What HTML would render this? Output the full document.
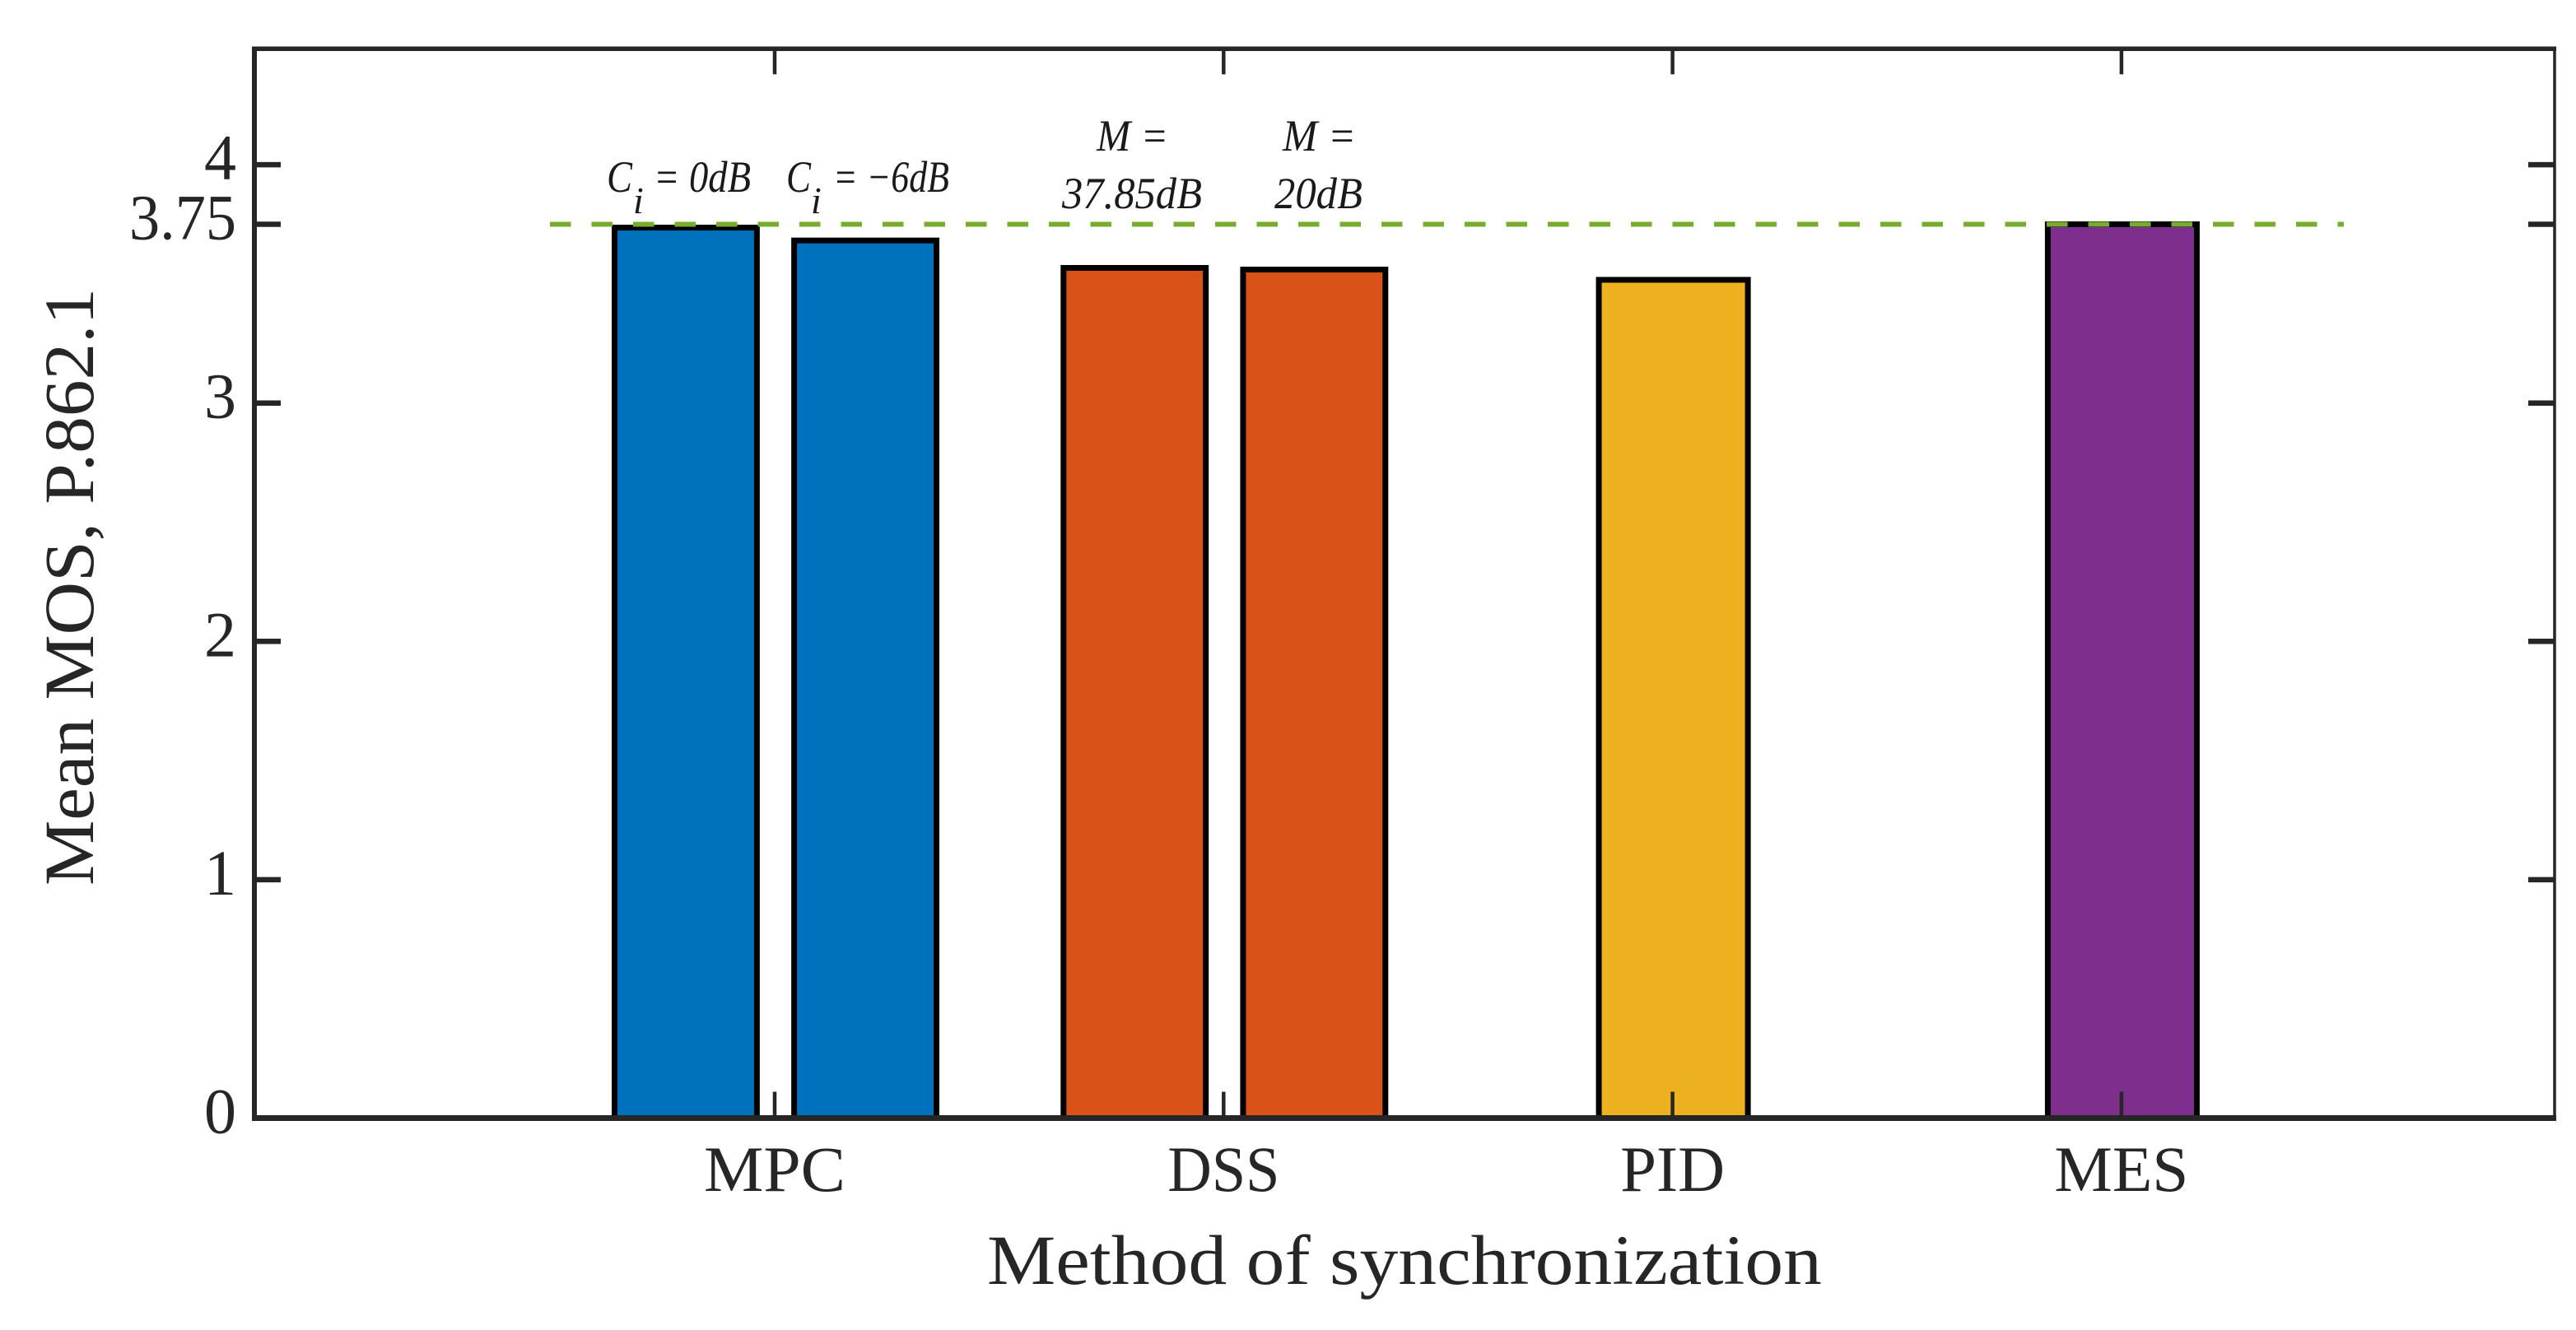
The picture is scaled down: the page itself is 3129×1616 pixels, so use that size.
<!DOCTYPE html>
<html lang="en">
<head>
<meta charset="utf-8">
<title>Mean MOS by method of synchronization</title>
<style>
  html, body { margin: 0; padding: 0; background: #ffffff; }
  #chart { display: block; width: 3129px; height: 1616px; }
  text { font-family: "Liberation Serif", serif; fill: #262626; }
  .annot { font-style: italic; font-size: 54px; fill: #1a1a1a; }
</style>
</head>
<body>
<svg id="chart" xmlns="http://www.w3.org/2000/svg" width="3129" height="1616" viewBox="0 0 3129 1616">
  <rect x="0" y="0" width="3129" height="1616" fill="#ffffff"/>
  <g id="bars"></g>
  <g id="refline"></g>
  <g id="axes"></g>

  <text x="1706" y="1560" font-size="86" text-anchor="middle" textLength="1014" lengthAdjust="spacingAndGlyphs">Method of synchronization</text>
  <text transform="translate(113 713) rotate(-90)" font-size="86" text-anchor="middle" textLength="726" lengthAdjust="spacingAndGlyphs">Mean MOS, P.862.1</text>

  <g>
    <text class="annot" x="737" y="233" textLength="31" lengthAdjust="spacingAndGlyphs">C</text>
    <text class="annot" x="769" y="259" style="font-size:46px">i</text>
    <text class="annot" x="794" y="233" textLength="118" lengthAdjust="spacingAndGlyphs">= 0dB</text>
    <text class="annot" x="955" y="233" textLength="30" lengthAdjust="spacingAndGlyphs">C</text>
    <text class="annot" x="985" y="259" style="font-size:46px">i</text>
    <text class="annot" x="1012" y="233" textLength="141" lengthAdjust="spacingAndGlyphs">= −6dB</text>
    <text class="annot" x="1332" y="183" textLength="87" lengthAdjust="spacingAndGlyphs">M =</text>
    <text class="annot" x="1290" y="253" textLength="170" lengthAdjust="spacingAndGlyphs">37.85dB</text>
    <text class="annot" x="1558" y="183" textLength="89" lengthAdjust="spacingAndGlyphs">M =</text>
    <text class="annot" x="1548" y="253" textLength="107" lengthAdjust="spacingAndGlyphs">20dB</text>
  </g>
</svg>

<script>
// Chart data
const categories = ['MPC', 'DSS', 'PID', 'MES'];
const mpcValues = [3.736, 3.682];
const dssValues = [3.567, 3.56];
const pidValues = [3.517];
const mesValues = [3.75];
const yTickValues = [0, 1, 2, 3, 3.75, 4];
const yTickLabels = ['0', '1', '2', '3', '3.75', '4'];
const referenceValue = [3.75];
const barColors = ['#0072BD', '#D95319', '#EDB120', '#7E2F8E'];

const seriesByCategory = [mpcValues, dssValues, pidValues, mesValues];

const NS = 'http://www.w3.org/2000/svg';
const axisLeft = 309, axisRight = 3103, axisTop = 59.3, axisBottom = 1358.5;
const xUnit = 545.3;

function xScale(c) { return 942 + (c - 1) * xUnit; }
function yScale(v) { return 1358.5 - v * 289.6; }

function make(tag, attrs, parent) {
  const el = document.createElementNS(NS, tag);
  for (const k in attrs) el.setAttribute(k, attrs[k]);
  parent.appendChild(el);
  return el;
}

// Bars
const barsGroup = document.getElementById('bars');
seriesByCategory.forEach(function (vals, ci) {
  const n = vals.length;
  const w = n > 1 ? 0.317 : 0.332;
  vals.forEach(function (v, i) {
    const center = xScale(ci + 1) + (i - (n - 1) / 2) * 0.4 * xUnit;
    const rect = make('rect', {
      x: center - w * xUnit / 2,
      y: yScale(v),
      width: w * xUnit,
      height: yScale(0) - yScale(v),
      fill: barColors[ci],
      stroke: '#000000',
      'stroke-width': 7
    }, barsGroup);
    
    
  });
});

// Reference line
const refGroup = document.getElementById('refline');
const refLine = make('line', {
  x1: 668, x2: 2847,
  y1: yScale(referenceValue[0]), y2: yScale(referenceValue[0]),
  stroke: '#77AC30', 'stroke-width': 6, 'stroke-dasharray': '25.5 25'
}, refGroup);



// Axes
const axes = document.getElementById('axes');
const axisColor = '#262626';
const labelFit = { 'MPC': 172, 'DSS': 136, 'PID': 127, 'MES': 163, '3.75': 130 };

const topLine = make('line', { x1: axisLeft - 3, x2: axisRight + 2, y1: axisTop, y2: axisTop, stroke: axisColor, 'stroke-width': 5.5 }, axes);



const bottomLine = make('line', { x1: axisLeft - 3, x2: axisRight + 2, y1: axisBottom, y2: axisBottom, stroke: axisColor, 'stroke-width': 7 }, axes);



const leftLine = make('line', { x1: axisLeft, x2: axisLeft, y1: axisTop, y2: axisBottom, stroke: axisColor, 'stroke-width': 6 }, axes);



const rightLine = make('line', { x1: axisRight, x2: axisRight, y1: axisTop, y2: axisBottom, stroke: axisColor, 'stroke-width': 3.5 }, axes);



yTickValues.forEach(function (v, i) {
  const y = yScale(v);
  const leftTick = make('line', { x1: axisLeft, x2: axisLeft + 32, y1: y, y2: y, stroke: axisColor, 'stroke-width': 6.5 }, axes);
  
  

  const rightTick = make('line', { x1: axisRight - 32, x2: axisRight, y1: y, y2: y, stroke: axisColor, 'stroke-width': 6.5 }, axes);
  
  

  const label = make('text', { x: 287, y: y + 18, 'font-size': 78, 'text-anchor': 'end' }, axes);
  label.textContent = yTickLabels[i];
  if (labelFit[yTickLabels[i]]) {
    label.setAttribute('textLength', labelFit[yTickLabels[i]]);
    label.setAttribute('lengthAdjust', 'spacingAndGlyphs');
  }
  
  
});

categories.forEach(function (name, i) {
  const x = xScale(i + 1) - 1;
  const bottomTick = make('line', { x1: x, x2: x, y1: axisBottom, y2: axisBottom - 32, stroke: axisColor, 'stroke-width': 4.5 }, axes);
  
  

  const topTick = make('line', { x1: x, x2: x, y1: axisTop, y2: axisTop + 31, stroke: axisColor, 'stroke-width': 4.5 }, axes);
  
  

  const label = make('text', { x: x, y: 1447, 'font-size': 78, 'text-anchor': 'middle' }, axes);
  label.textContent = name;
  if (labelFit[name]) {
    label.setAttribute('textLength', labelFit[name]);
    label.setAttribute('lengthAdjust', 'spacingAndGlyphs');
  }
  
  
});
</script>
</body>
</html>
